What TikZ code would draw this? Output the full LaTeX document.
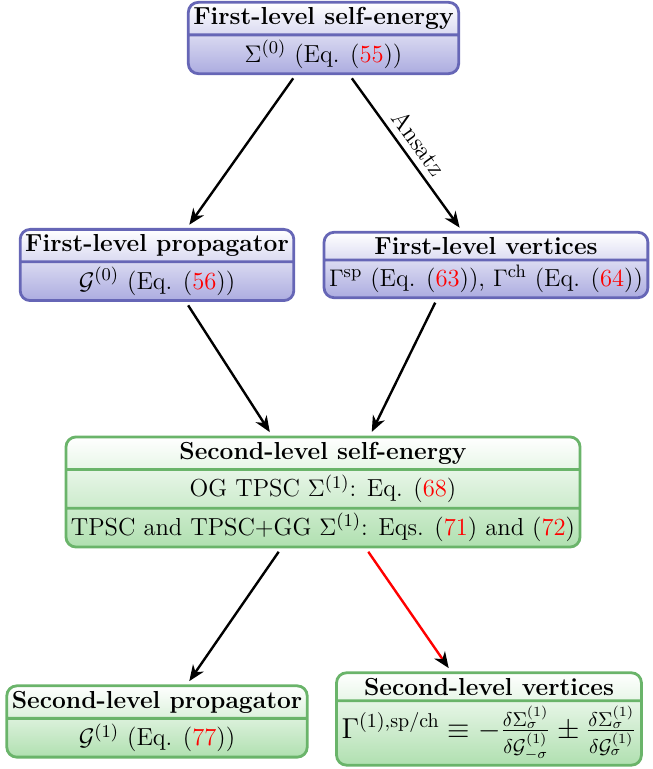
\documentclass[tikz,border=0pt]{standalone}
\usepackage{amsmath}
\usepackage{amssymb}
\usetikzlibrary{arrows.meta}
\usetikzlibrary{shapes.multipart}
\usepackage[rgb]{xcolor}
\definecolor{bd}{HTML}{6666B6}
\definecolor{bf}{HTML}{ACACE0}
\definecolor{gd}{HTML}{6AB46A}
\definecolor{gf}{HTML}{B0E0B0}
\definecolor{eq}{HTML}{FF0000}

\tikzset{
  level/.style = {rectangle split, rectangle split parts=#1, rounded corners=5pt,
    line width=1.4pt, align=center, inner xsep=2.5pt, inner ysep=1.9pt},
  bluebox/.style = {level=2, draw=bd, top color=white, bottom color=bf},
  greenbox/.style = {level=#1, draw=gd, top color=white, bottom color=gf},
  link/.style = {very thick, -{Stealth[length=8pt, width=6.5pt, inset=2.5pt, color=black]},
    shorten <=2pt, shorten >=2pt}
}
\newcommand{\eqnum}[1]{\textcolor{eq}{#1}}

\begin{document}
\begin{tikzpicture}[font=\fontsize{12.3}{14.8}\selectfont]

  \useasboundingbox (0,0) rectangle (11.475,-13.514);

  \node[bluebox] (sig0) at (5.685,-0.668) {\textbf{First-level self-energy}
    \nodepart{two} $\Sigma^{(0)}$ (Eq. (\eqnum{55}))};
  \node[bluebox] (prop0) at (2.759,-4.657) {\textbf{First-level propagator}
    \nodepart{two} $\mathcal{G}^{(0)}$ (Eq. (\eqnum{56}))};
  \node[bluebox] (vert0) at (8.540,-4.657) {\textbf{First-level vertices}
    \nodepart{two} $\Gamma^{\mathrm{sp}}$ (Eq. (\eqnum{63})), $\Gamma^{\mathrm{ch}}$ (Eq. (\eqnum{64}))};

  \node[greenbox=3] (sig1) at (5.676,-8.646) {\textbf{Second-level self-energy}
    \nodepart{two} OG TPSC $\Sigma^{(1)}$: Eq. (\eqnum{68})
    \nodepart{three} TPSC and TPSC+GG $\Sigma^{(1)}$: Eqs. (\eqnum{71}) and (\eqnum{72})};

  \node[greenbox=2] (prop1) at (2.759,-12.679) {\textbf{Second-level propagator}
    \nodepart{two} $\mathcal{G}^{(1)}$ (Eq. (\eqnum{77}))};
  \node[greenbox=2] (vert1) at (8.593,-12.635) {\textbf{Second-level vertices}
    \nodepart{two} \fontsize{13.8}{16}\selectfont $\Gamma^{(1),\mathrm{sp/ch}} \equiv
      -\frac{\delta\Sigma^{(1)}_{\sigma}}{\delta\mathcal{G}^{(1)}_{-\sigma}}
      \pm\frac{\delta\Sigma^{(1)}_{\sigma}}{\delta\mathcal{G}^{(1)}_{\sigma}}$};

  % first level
  \draw[link] ([xshift=-14pt]sig0.south) -- ([xshift=15pt]prop0.north);
  \draw[link] ([xshift=13pt]sig0.south) -- node[midway, sloped, above] {Ansatz}
    ([xshift=-12pt]vert0.north);

  % second level
  \draw[link] ([xshift=14.5pt]prop0.south) -- ([xshift=-25.5pt]sig1.north);
  \draw[link] ([xshift=-24.5pt]vert0.south) -- ([xshift=23.5pt]sig1.north);
  \draw[link] ([xshift=-21pt]sig1.south) -- ([xshift=15pt]prop1.north);
  \draw[link, draw=red] ([xshift=21.5pt]sig1.south) -- ([xshift=-19pt]vert1.north);

\end{tikzpicture}
\end{document}
